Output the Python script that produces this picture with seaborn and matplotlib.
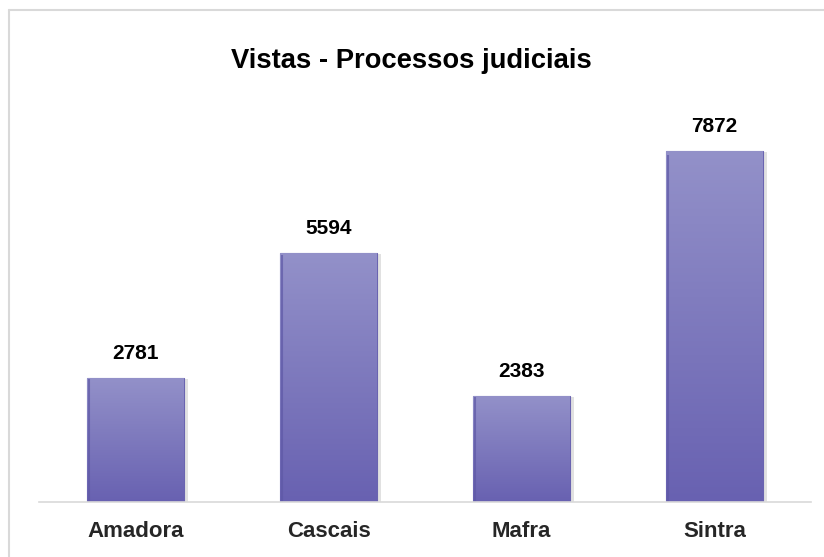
#!/usr/bin/env python3
"""
Vistas - Processos judiciais: gráfico de barras
"""

import numpy as np
import pandas as pd
import matplotlib
matplotlib.use('Agg')
import matplotlib.pyplot as plt
import matplotlib.patheffects as pe
from matplotlib.colors import LinearSegmentedColormap
from matplotlib.lines import Line2D
import seaborn as sns

# dados
comarcas = ['Amadora', 'Cascais', 'Mafra', 'Sintra']
vistas = [2781, 5594, 2383, 7872]
titulo = 'Vistas - Processos judiciais'

sns.set_style('white')
plt.rcParams['font.family'] = ['Liberation Sans', 'DejaVu Sans']

df = pd.DataFrame({'comarca': comarcas, 'vistas': vistas})

fig = plt.figure(figsize=(8.24, 5.57), dpi=100)
ax = fig.add_axes([39 / 824, 55 / 557, 772 / 824, (502 - 100.7) / 557])

sns.barplot(data=df, x='comarca', y='vistas', color='#7C78BE', width=0.5,
            edgecolor='#6A64B0', linewidth=0.8, ax=ax)

ax.set_xlim(-0.5, 3.5)
ax.set_ylim(0, 9000)

# gradiente vertical nas barras (mais claro em cima)
grad = LinearSegmentedColormap.from_list('roxo', ['#6861B1', '#9391C9'])
for bar in ax.patches:
    x0, y0 = bar.get_x(), bar.get_y()
    w, h = bar.get_width(), bar.get_height()
    bar.set_path_effects([pe.SimplePatchShadow(offset=(3, -1), shadow_rgbFace='#888888', alpha=0.25),
                          pe.Normal()])
    img = ax.imshow(np.linspace(0, 1, 256).reshape(-1, 1), cmap=grad, origin='lower',
                    extent=[x0, x0 + w, y0, y0 + h], aspect='auto', zorder=bar.get_zorder() + 0.1)
    img.set_clip_path(bar)
    # faixa escura à esquerda
    xe = x0 + w * 0.02
    ax.plot([xe, xe], [y0, y0 + h * 0.99], color='#5E58A6', lw=1.5, alpha=0.7,
            zorder=bar.get_zorder() + 0.2, solid_capstyle='butt')

# rótulos de valores
for i, v in enumerate(vistas):
    ax.annotate(str(v), (i, v), xytext=(0, 15), textcoords='offset pixels',
                ha='center', va='bottom', fontsize=15, fontweight='bold', color='black')

ax.set_xlabel('')
ax.set_ylabel('')
ax.set_yticks([])
ax.tick_params(axis='x', length=0, pad=14, labelsize=16)
for lbl in ax.get_xticklabels():
    lbl.set_fontweight('bold')

for s in ['top', 'right', 'left']:
    ax.spines[s].set_visible(False)
ax.spines['bottom'].set_color('#D9D9D9')
ax.spines['bottom'].set_linewidth(1.2)

fig.text(411 / 824, 1 - 61 / 557, titulo, ha='center', va='center',
         fontsize=19.7, fontweight='bold', color='black')

# moldura do gráfico
fig.add_artist(Line2D([9 / 824, 9 / 824], [0, 1 - 10 / 557], color='#D9D9D9', lw=1.5,
                      transform=fig.transFigure))
fig.add_artist(Line2D([9 / 824, 1], [1 - 10 / 557, 1 - 10 / 557], color='#D9D9D9', lw=1.5,
                      transform=fig.transFigure))

fig.savefig('out.png', dpi=100)
